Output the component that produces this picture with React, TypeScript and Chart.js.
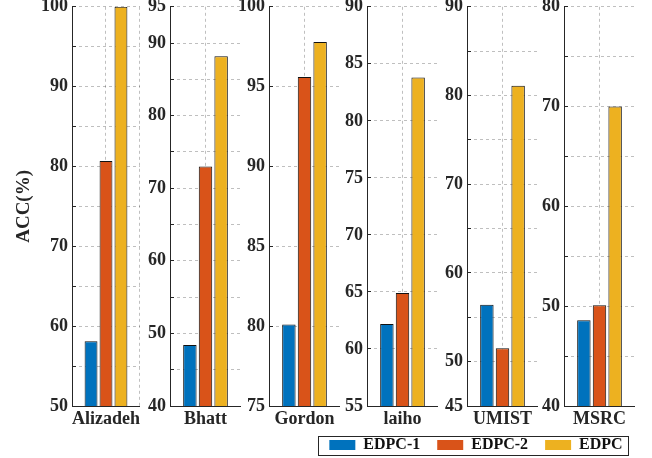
import React, { useEffect, useRef } from 'react';
import { Chart, registerables } from 'chart.js';

Chart.register(...registerables);

// ---- data ----
const categories = ['Alizadeh', 'Bhatt', 'Gordon', 'laiho', 'UMIST', 'MSRC'];
const seriesNames = ['EDPC-1', 'EDPC-2', 'EDPC'];
const edpc1 = [58.1, 48.4, 80.1, 62.2, 56.4, 48.6];
const edpc2 = [80.7, 73.0, 95.6, 64.9, 51.5, 50.1];
const edpc = [100, 88.2, 97.8, 83.8, 81.1, 70.0];
const yMins = [50, 40, 75, 55, 45, 40];
const yMaxs = [100, 95, 100, 90, 90, 80];
const yTickLabels = [
  [50, 60, 70, 80, 90, 100],
  [40, 50, 60, 70, 80, 90, 95],
  [75, 80, 85, 90, 95, 100],
  [55, 60, 65, 70, 75, 80, 85, 90],
  [45, 50, 60, 70, 80, 90],
  [40, 50, 60, 70, 80],
];
const yTitle = 'ACC(%)';

// ---- style / layout ----
const COLORS = ['#0072BD', '#D95319', '#EDB120'];
const FONT = "'Liberation Serif', 'Times New Roman', serif";
const TXT = '#262626';
const GRID = 'rgba(0,0,0,0.25)';
const AXIS_X = [72, 170, 269, 367, 467, 564];
const PLOT_W = 71;
const Y_W = 40;
const FIRST_Y_W = 72;
const PAD_TOP = 0;
const CANVAS_TOP = -12;
const X_H = 30;
const CANVAS_H = 406 - CANVAS_TOP + X_H;

function panelConfig(i: number): any {
  const values = [edpc1, edpc2, edpc];
  const yw = i === 0 ? FIRST_Y_W : Y_W;
  return {
    type: 'bar',
    data: {
      labels: [categories[i]],
      datasets: values.map((arr, k) => ({
        label: seriesNames[k],
        data: [arr[i]],
        backgroundColor: COLORS[k],
        borderColor: '#111',
        borderWidth: 1,
        categoryPercentage: 0.66,
        barPercentage: 0.86,
      })),
    },
    options: {
      animation: false,
      responsive: false,
      maintainAspectRatio: false,
      layout: { padding: { top: PAD_TOP, left: 0, right: 0, bottom: 0 } },
      plugins: { legend: { display: false }, tooltip: { enabled: false } },
      scales: {
        x: {
          type: 'category',
          offset: true,
          grid: { offset: true, color: GRID, drawTicks: false, lineWidth: 1 },
          border: { display: true, color: TXT, width: 1, dash: [3, 3] },
          ticks: { font: { family: FONT, size: 18, weight: 'bold' }, color: TXT, padding: 3, maxRotation: 0 },
          afterFit: (s: any) => { s.height = X_H; },
        },
        x2: {
          type: 'category',
          position: 'bottom',
          offset: true,
          grid: { offset: false, color: GRID, drawTicks: false, lineWidth: 1 },
          border: { display: false, dash: [3, 3] },
          ticks: { display: false },
          afterFit: (s: any) => { s.height = 0; },
        },
        y: {
          min: yMins[i],
          max: yMaxs[i],
          grid: { color: GRID, drawTicks: true, tickLength: -4, tickColor: TXT, tickWidth: 1, lineWidth: 1 },
          border: { display: true, color: TXT, width: 1, dash: [3, 3] },
          ticks: {
            stepSize: 5,
            autoSkip: false,
            padding: 8,
            color: TXT,
            font: { family: FONT, size: 18, weight: 'bold' },
            callback: (v: any) => (yTickLabels[i].includes(Number(v)) ? String(v) : ''),
          },
          title: i === 0
            ? { display: true, text: yTitle, color: TXT, font: { family: FONT, size: 19, weight: 'bold' }, padding: { top: 13, bottom: 0 } }
            : { display: false },
          afterFit: (s: any) => { s.width = yw; },
        },
      },
    },
  };
}

const legendFrame = {
  id: 'legendFrame',
  afterDraw(chart: any) {
    const boxes = chart.legend && chart.legend.legendHitBoxes;
    if (!boxes || !boxes.length) return;
    const l = Math.min(...boxes.map((b: any) => b.left)) - 11;
    const r = Math.max(...boxes.map((b: any) => b.left + b.width)) + 6;
    const t = Math.min(...boxes.map((b: any) => b.top)) - 1.5;
    const btm = Math.max(...boxes.map((b: any) => b.top + b.height)) + 1.5;
    const ctx = chart.ctx;
    ctx.save();
    ctx.strokeStyle = '#262626';
    ctx.lineWidth = 1;
    ctx.strokeRect(Math.round(l) + 0.5, Math.round(t) + 0.5, Math.round(r - l), Math.round(btm - t));
    ctx.restore();
  },
};

function legendConfig(): any {
  return {
    type: 'bar',
    data: {
      labels: [''],
      datasets: seriesNames.map((n, k) => ({ label: n, data: [], backgroundColor: COLORS[k], borderColor: COLORS[k], borderWidth: 0 })),
    },
    options: {
      animation: false,
      responsive: false,
      layout: { padding: 0 },
      scales: { x: { display: false }, y: { display: false } },
      plugins: {
        tooltip: { enabled: false },
        legend: {
          display: true,
          position: 'top',
          labels: {
            boxWidth: 26,
            boxHeight: 10,
            padding: 17,
            color: '#111',
            font: { family: FONT, size: 16, weight: 'bold' },
          },
        },
      },
    },
    plugins: [legendFrame],
  };
}

export default function App() {
  const refs = useRef<(HTMLCanvasElement | null)[]>([]);
  const legendRef = useRef<HTMLCanvasElement | null>(null);

  useEffect(() => {
    const charts: Chart[] = [];
    categories.forEach((_, i) => {
      const c = refs.current[i];
      if (c) charts.push(new Chart(c, panelConfig(i)));
    });
    if (legendRef.current) charts.push(new Chart(legendRef.current, legendConfig()));
    return () => charts.forEach((c) => c.destroy());
  }, []);

  return (
    <div style={{ position: 'fixed', left: 0, top: 0, width: 652, height: 458, overflow: 'hidden', background: '#fff' }}>
      {categories.map((cat, i) => {
        const yw = i === 0 ? FIRST_Y_W : Y_W;
        const left = AXIS_X[i] - yw;
        const w = yw + PLOT_W;
        return (
          <canvas
            key={cat}
            ref={(el) => { refs.current[i] = el; }}
            width={w}
            height={CANVAS_H}
            style={{ position: 'absolute', left, top: CANVAS_TOP, width: w, height: CANVAS_H }}
          />
        );
      })}
      <canvas
        ref={legendRef}
        width={340}
        height={130}
        style={{ position: 'absolute', left: 306, top: 420, width: 340, height: 130 }}
      />
    </div>
  );
}
